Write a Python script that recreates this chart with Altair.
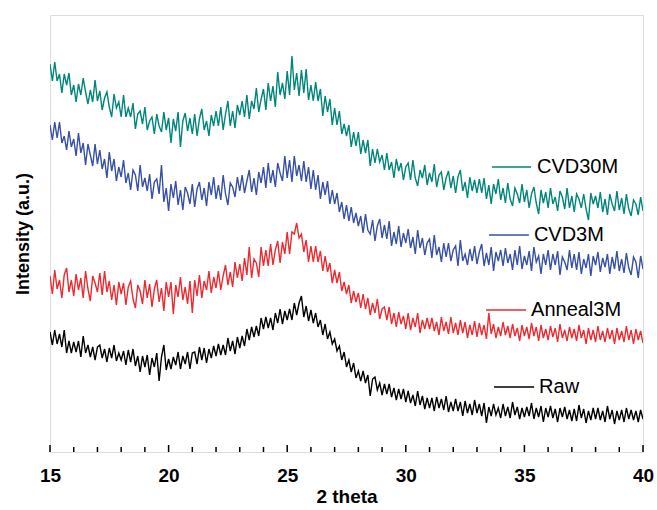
import altair as alt
import pandas as pd

# 2-theta sampling grid (0.1 step from 15 to 40)
X_START, X_STEP, N = 15.0, 0.1, 251
two_theta = [round(X_START + i * X_STEP, 1) for i in range(N)]

cvd30m = [
    388, 371, 390, 371, 378, 359, 378, 367, 379, 357, 367,
    350, 368, 357, 374, 360, 348, 362, 350, 372, 351,
    361, 342, 354, 360, 345, 335, 358, 344, 350, 335,
    357, 335, 344, 335, 349, 323, 338, 341, 328, 345,
    322, 331, 335, 318, 338, 326, 320, 340, 322, 334,
    309, 333, 321, 340, 305, 331, 339, 321, 334, 318,
    338, 316, 333, 343, 322, 331, 316, 337, 326, 341,
    326, 345, 322, 338, 351, 326, 341, 324, 347, 337,
    351, 335, 357, 333, 351, 343, 364, 340, 353, 363,
    342, 369, 351, 366, 345, 380, 357, 369, 353, 381,
    357, 396, 362, 379, 356,
    382, 359, 383, 352, 367,
    351, 370, 351, 363, 336,
    356, 340, 353, 327, 344,
    327, 341, 318, 328, 316,
    327, 305, 320, 306, 320,
    298, 312, 299, 312, 286, 303, 289, 303, 290, 297,
    282, 299, 282, 290, 274, 293, 281, 289, 272, 285,
    289, 272, 292, 274, 266, 282, 274, 287, 267, 279,
    270, 288, 265, 277, 280, 262, 274, 281, 264, 276,
    259, 275, 282, 261, 270, 254, 275, 261, 272, 259,
    273, 259, 274, 253, 267, 248, 268, 258, 273, 252,
    264, 249, 269, 253, 246, 264, 258, 249, 268, 250,
    262, 244, 258, 265, 249, 238, 262, 249, 260, 244,
    264, 248, 255, 241, 261, 255, 243, 264, 244, 256,
    240, 258, 253, 244, 258, 243, 232, 259, 248, 256,
    244, 260, 240, 253, 237, 258, 248, 241, 261, 242,
    254, 238, 258, 243, 236, 252, 248, 237, 255, 241,
]

cvd3m = [
    327, 312, 330, 314, 330, 309, 316, 302, 321, 305, 313,
    296, 319, 299, 309, 287, 308, 297, 286, 308, 288,
    302, 283, 293, 274, 300, 281, 293, 271, 285, 275,
    292, 269, 279, 262, 282, 277, 261, 287, 265, 274,
    261, 278, 253, 270, 273, 258, 287, 250, 264, 241,
    268, 254, 271, 247, 262, 242, 265, 259, 248, 268,
    245, 263, 270, 252, 264, 246, 270, 257, 275, 253,
    267, 252, 277, 258, 247, 269, 265, 255, 275, 261,
    277, 259, 271, 282, 260, 274, 257, 280, 269, 285,
    264, 289, 269, 282, 265, 289, 279, 271, 296, 274,
    292, 270, 296, 276, 287,
    271, 291, 270, 285, 263,
    282, 262, 277, 253, 270,
    257, 271, 248, 262, 248,
    259, 240, 250, 233, 247,
    231, 245, 229, 239, 226,
    236, 219, 238, 222, 218, 232, 211, 226, 233, 214,
    227, 213, 231, 206, 220, 208, 226, 205, 219, 209,
    223, 204, 215, 198, 222, 204, 214, 197, 209, 213,
    194, 217, 197, 205, 190, 209, 195, 209, 191, 202,
    206, 186, 212, 191, 198, 187, 203, 191, 206, 188,
    200, 208, 186, 199, 187, 205, 181, 200, 191, 202,
    186, 204, 189, 198, 182, 202, 187, 206, 183, 196,
    187, 201, 181, 205, 190, 196, 178, 198, 187, 202,
    182, 198, 187, 201, 177, 195, 190, 182, 202, 184,
    198, 182, 200, 178, 193, 184, 198, 176, 196, 187,
    200, 180, 194, 185, 198, 178, 195, 183, 201, 181,
    193, 179, 199, 184, 177, 195, 190, 174, 196, 183,
]

anneal3m = [
    176, 158, 182, 163, 172, 154, 177, 184, 160, 172, 156,
    178, 162, 174, 154, 181, 163, 151, 176, 169, 160,
    179, 157, 181, 160, 171, 152, 167, 147, 170, 158,
    169, 147, 165, 171, 153, 144, 167, 161, 148, 172,
    154, 168, 145, 163, 172, 150, 164, 141, 170, 155,
    170, 138, 167, 155, 175, 152, 165, 148, 171, 139,
    172, 156, 177, 154, 171, 162, 181, 159, 175, 164,
    181, 162, 176, 187, 167, 180, 165, 190, 174, 188,
    171, 194, 177, 205, 174, 193, 189, 175, 205, 186,
    202, 186, 208, 187, 202, 211, 189, 210, 198, 220,
    198, 220, 218, 229, 214,
    218, 200, 212, 190, 206,
    190, 206, 190, 201, 181,
    196, 180, 189, 169, 182,
    169, 180, 161, 170, 158,
    167, 149, 161, 150, 159,
    144, 158, 143, 154, 137, 149, 139, 153, 133, 143,
    145, 132, 145, 128, 139, 125, 140, 128, 136, 123,
    139, 122, 134, 125, 139, 119, 132, 123, 134, 123,
    134, 121, 130, 117, 135, 121, 130, 118, 135, 119,
    129, 117, 132, 119, 130, 114, 127, 117, 131, 115,
    129, 117, 127, 113, 139, 118, 128, 114, 125, 116,
    130, 117, 126, 114, 128, 116, 124, 111, 127, 116,
    125, 113, 129, 116, 125, 111, 127, 114, 123, 112,
    126, 115, 124, 110, 128, 114, 122, 111, 125, 114,
    123, 111, 127, 114, 122, 108, 124, 112, 122, 110,
    126, 112, 121, 110, 124, 113, 122, 108, 124, 112,
    121, 110, 126, 112, 122, 108, 123, 112, 121, 109,
]

raw = [
    120, 107, 122, 108, 118, 105, 122, 99, 111, 99, 110,
    100, 111, 95, 116, 99, 107, 95, 105, 92, 105,
    107, 94, 103, 90, 104, 94, 107, 91, 99, 92,
    101, 87, 102, 90, 103, 86, 96, 80, 96, 85,
    97, 77, 94, 85, 99, 71, 95, 107, 82, 93,
    83, 95, 87, 100, 83, 96, 88, 100, 83, 99,
    100, 88, 105, 92, 104, 89, 103, 94, 106, 96,
    108, 97, 107, 97, 114, 101, 111, 98, 115, 104,
    116, 106, 123, 112, 125, 115, 126, 116, 134, 123,
    135, 124, 134, 122, 139, 129, 143, 128, 141, 132,
    143, 132, 149, 137, 149,
    156, 135, 146, 131, 142,
    129, 139, 125, 132, 117,
    128, 113, 120, 108, 113,
    101, 106, 92, 100, 85,
    92, 80, 89, 74, 81,
    71, 81, 69, 77, 56, 73, 75, 62, 69, 57,
    68, 58, 68, 55, 64, 52, 63, 53, 63, 50,
    61, 49, 57, 46, 61, 47, 56, 43, 54, 44,
    54, 41, 55, 44, 53, 42, 56, 40, 50, 41,
    53, 41, 50, 36, 51, 39, 48, 37, 52, 39,
    48, 36, 49, 29, 45, 36, 48, 37, 44, 34,
    48, 36, 45, 34, 50, 37, 45, 33, 44, 35,
    45, 36, 49, 33, 44, 35, 46, 30, 44, 35,
    46, 34, 43, 30, 44, 35, 45, 33, 42, 31,
    43, 31, 47, 34, 43, 29, 41, 32, 44, 33,
    44, 32, 41, 30, 46, 33, 42, 28, 41, 32,
    42, 30, 44, 33, 42, 32, 41, 30, 42, 33,
]

series_names = ["CVD30M", "CVD3M", "Anneal3M", "Raw"]
series_colors = ["#00857a", "#3650a3", "#ed2a30", "#000000"]
series_values = [cvd30m, cvd3m, anneal3m, raw]

# in-plot label positions (data units)
label_x0 = [33.63, 33.51, 33.38, 33.72]
label_x1 = [35.28, 35.19, 35.07, 35.41]
label_tx = [35.53, 35.40, 35.28, 35.62]
label_y = [285, 217, 142, 65]

major_ticks = [15, 20, 25, 30, 35, 40]
minor_ticks = [t for t in range(15, 41) if t not in major_ticks]

rows = []
for name, vals in zip(series_names, series_values):
    for x, v in zip(two_theta, vals):
        rows.append({"two_theta": x, "intensity": v, "sample": name})
df = pd.DataFrame(rows)

labels_df = pd.DataFrame({
    "sample": series_names, "x0": label_x0, "x1": label_x1,
    "tx": label_tx, "y": label_y,
})

W, H = 593, 437
FONT = "Liberation Sans"

xscale = alt.Scale(domain=[15, 40], nice=False, zero=False)
yscale = alt.Scale(domain=[0, 437], nice=False, zero=False)
cscale = alt.Scale(domain=series_names, range=series_colors)

lines = alt.Chart(df).mark_line(strokeWidth=1.4, clip=True).encode(
    x=alt.X("two_theta:Q", scale=xscale,
            axis=alt.Axis(values=major_ticks, ticks=False, domain=False, grid=False,
                          labelFlush=False,
                          labelFont=FONT, labelFontSize=19, labelFontWeight="bold",
                          labelColor="black", labelPadding=14,
                          title="2 theta", titleFont=FONT, titleFontSize=19,
                          titleFontWeight="bold", titleColor="black", titlePadding=2)),
    y=alt.Y("intensity:Q", scale=yscale,
            axis=alt.Axis(labels=False, ticks=False, domain=False, grid=False,
                          title="Intensity (a.u.)", titleFont=FONT, titleFontSize=18,
                          titleFontWeight="bold", titleColor="black", titlePadding=18)),
    color=alt.Color("sample:N", scale=cscale, legend=None),
    detail="sample:N",
)

seg = alt.Chart(labels_df).mark_rule(strokeWidth=1.5).encode(
    x=alt.X("x0:Q", scale=xscale), x2="x1:Q",
    y=alt.Y("y:Q", scale=yscale),
    color=alt.Color("sample:N", scale=cscale, legend=None),
)

txt = alt.Chart(labels_df).mark_text(align="left", baseline="middle", font=FONT,
                                     fontSize=20, color="black").encode(
    x=alt.X("tx:Q", scale=xscale),
    y=alt.Y("y:Q", scale=yscale),
    text="sample:N",
)

maj = alt.Chart(pd.DataFrame({"t": major_ticks})).mark_rule(color="black", strokeWidth=1.5).encode(
    x=alt.X("t:Q", scale=xscale), y=alt.value(H), y2=alt.value(H - 7))
mino = alt.Chart(pd.DataFrame({"t": minor_ticks})).mark_rule(color="black", strokeWidth=1.5).encode(
    x=alt.X("t:Q", scale=xscale), y=alt.value(H), y2=alt.value(H - 5))

chart = alt.layer(lines, seg, txt, maj, mino).properties(
    width=W, height=H,
    autosize=alt.AutoSizeParams(type="none"),
    padding={"left": 50, "top": 15, "right": 14, "bottom": 58},
).configure_view(stroke="black", strokeWidth=2).configure(background="white")

chart.save("out.html", embed_options={"renderer": "svg", "actions": False})
